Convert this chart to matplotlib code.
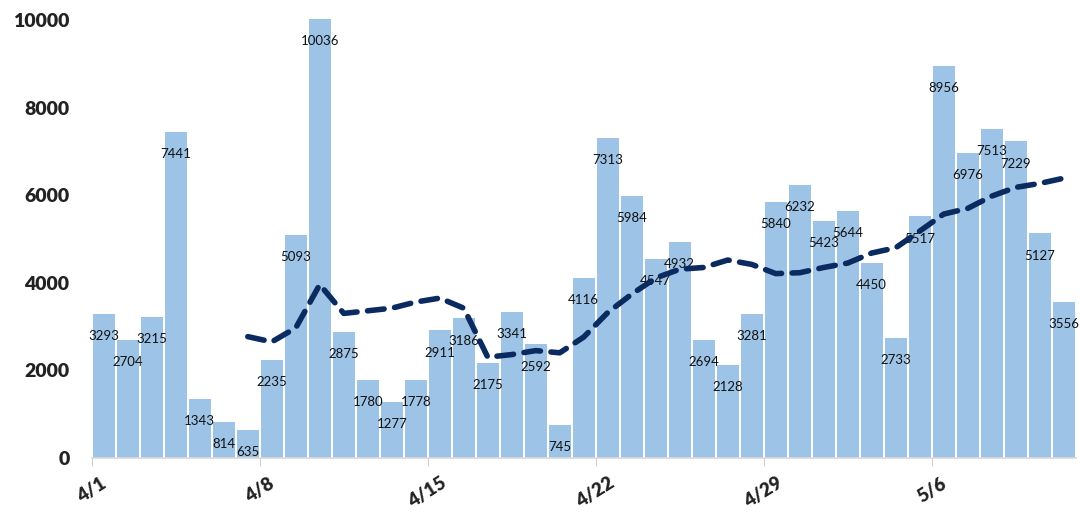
import matplotlib.pyplot as plt

# daily counts 4/1 - 5/11
days = ["4/1", "4/2", "4/3", "4/4", "4/5", "4/6", "4/7", "4/8", "4/9", "4/10",
        "4/11", "4/12", "4/13", "4/14", "4/15", "4/16", "4/17", "4/18", "4/19", "4/20",
        "4/21", "4/22", "4/23", "4/24", "4/25", "4/26", "4/27", "4/28", "4/29", "4/30",
        "5/1", "5/2", "5/3", "5/4", "5/5", "5/6", "5/7", "5/8", "5/9", "5/10", "5/11"]
counts = [3293, 2704, 3215, 7441, 1343, 814, 635, 2235, 5093, 10036,
          2875, 1780, 1277, 1778, 2911, 3186, 2175, 3341, 2592, 745,
          4116, 7313, 5984, 4547, 4932, 2694, 2128, 3281, 5840, 6232,
          5423, 5644, 4450, 2733, 5517, 8956, 6976, 7513, 7229, 5127, 3556]

# moving average line (starts at 4/7)
avg_days = days[6:]
avg_vals = [2770, 2650, 2970, 3960, 3300, 3360, 3420, 3560, 3650, 3420,
            2300, 2360, 2450, 2400, 2760, 3320, 3740, 4110, 4310, 4350,
            4520, 4420, 4210, 4230, 4350, 4450, 4680, 4800, 5180, 5570,
            5700, 5980, 6180, 6270, 6390]

week_ticks = ["4/1", "4/8", "4/15", "4/22", "4/29", "5/6"]

plt.rcParams["font.family"] = ["Lato", "DejaVu Sans"]

fig = plt.figure(figsize=(10.8, 5.15), dpi=100)
ax = fig.add_axes([0.085, 0.111, 0.911, 0.854])

xpos = [days.index(d) + 0.5 for d in days]
bars = ax.bar(xpos, counts, width=0.92, color="#9dc3e6", zorder=2, clip_on=False)

for x, v in zip(xpos, counts):
    ax.annotate(str(v), (x, v), xytext=(0, -16), textcoords="offset points",
                ha="center", va="center", fontsize=9.5, color="#111111", zorder=3)

avg_x = [days.index(d) + 0.5 for d in avg_days]
ax.plot(avg_x, avg_vals, color="#0a2a60", linewidth=4.0, dashes=(3.0, 1.9),
        solid_capstyle="round", dash_capstyle="round", zorder=4)

ax.set_xlim(0, len(days))
ax.set_ylim(0, 10050)
ax.set_yticks([0, 2000, 4000, 6000, 8000, 10000])
ax.set_xticks([days.index(d) for d in week_ticks])
ax.set_xticklabels(week_ticks, rotation=32, ha="center")

for lbl in ax.get_yticklabels() + ax.get_xticklabels():
    lbl.set_fontweight("heavy")
    lbl.set_fontsize(14)
    lbl.set_color("#222222")
for lbl in ax.get_xticklabels():
    lbl.set_fontsize(13.5)

ax.tick_params(axis="y", length=0, pad=16)
ax.tick_params(axis="x", length=6, color="#d0d0d0", pad=6)

for s in ["top", "right", "left"]:
    ax.spines[s].set_visible(False)
ax.spines["bottom"].set_color("#d9d9d9")
ax.spines["bottom"].set_linewidth(1.2)

fig.savefig("out.png", dpi=100)
